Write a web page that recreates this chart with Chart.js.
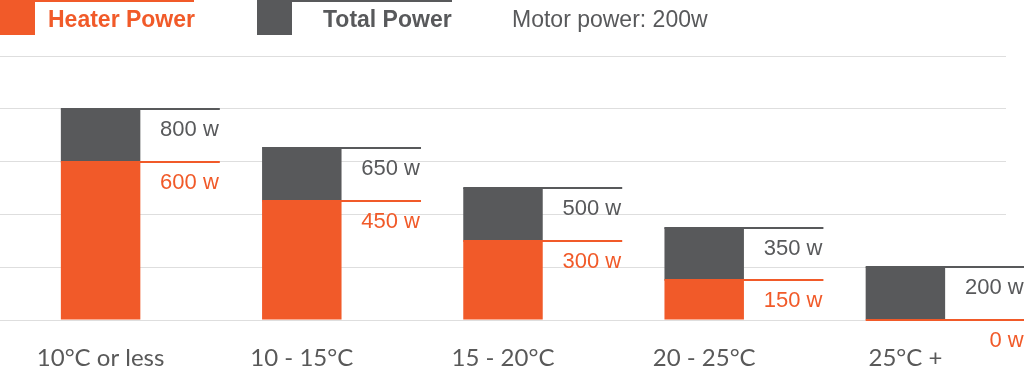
<!DOCTYPE html>
<html><head><meta charset="utf-8">
<script src="https://cdn.jsdelivr.net/npm/chart.js@4.4.0/dist/chart.umd.min.js"></script>
<style>html,body{margin:0;padding:0;background:#fff;overflow:hidden}#wrap{width:1024px;height:368px;position:relative}</style>
</head><body><div id="wrap"><canvas id="c"></canvas></div>
<script>
const categories = ['10°C or less', '10 - 15°C', '15 - 20°C', '20 - 25°C', '25°C +'];
const heaterPower = [600, 450, 300, 150, 0];
const motorPower = [200, 200, 200, 200, 200];
const yTicks = [0, 200, 400, 600, 800, 1000];
const legendLabels = ['Heater Power', 'Total Power', 'Motor power: 200w'];
const unit = ' w';

const ORANGE = '#F15A29';
const GRAY = '#58595B';

const annotations = {
  id: 'annotations',
  afterDatasetsDraw(chart) {
    const ctx = chart.ctx;
    const m0 = chart.getDatasetMeta(0), m1 = chart.getDatasetMeta(1);
    ctx.save();
    for (let i = 0; i < categories.length; i++) {
      const b0 = m0.data[i], b1 = m1.data[i];
      const w = b0.width;
      const left = b0.x - w / 2;
      const end = b0.x + 1.5 * w;
      const total = heaterPower[i] + motorPower[i];
      ctx.fillStyle = GRAY;
      ctx.fillRect(left, Math.round(b1.y) - 1, end - left, 2);
      ctx.fillStyle = ORANGE;
      ctx.fillRect(left, Math.round(b0.y) - 1, end - left, 2);
      ctx.font = '22px "Liberation Sans", Arial, sans-serif';
      ctx.textAlign = 'right';
      ctx.textBaseline = 'alphabetic';
      ctx.fillStyle = GRAY;
      ctx.fillText(total + unit, end - 1, b1.y + 27);
      ctx.fillStyle = ORANGE;
      ctx.fillText(heaterPower[i] + unit, end - 1, b0.y + 27);
    }
    ctx.restore();
  },
  afterDraw(chart) {
    const ctx = chart.ctx;
    ctx.save();
    ctx.fillStyle = ORANGE;
    ctx.fillRect(0, 0, 35, 35);
    ctx.fillRect(35, 0, 159, 2);
    ctx.fillStyle = GRAY;
    ctx.fillRect(257, 0, 35, 35);
    ctx.fillRect(292, 0, 160, 2);
    ctx.textAlign = 'left';
    ctx.textBaseline = 'alphabetic';
    ctx.font = 'bold 23px "Liberation Sans", Arial, sans-serif';
    ctx.fillStyle = ORANGE;
    ctx.fillText(legendLabels[0], 48, 27);
    ctx.fillStyle = GRAY;
    ctx.fillText(legendLabels[1], 323, 27);
    ctx.font = '23px "Liberation Sans", Arial, sans-serif';
    ctx.fillText(legendLabels[2], 512, 27);
    ctx.restore();
  }
};

new Chart(document.getElementById('c'), {
  type: 'bar',
  data: {
    labels: categories,
    datasets: [
      { label: legendLabels[0], data: heaterPower, backgroundColor: ORANGE, borderWidth: 0,
        barPercentage: 0.395, categoryPercentage: 1 },
      { label: legendLabels[1], data: motorPower, backgroundColor: GRAY, borderWidth: 0,
        barPercentage: 0.395, categoryPercentage: 1 }
    ]
  },
  options: {
    responsive: true,
    maintainAspectRatio: false,
    animation: false,
    layout: { padding: { top: 56, left: 0, right: 18, bottom: 0 } },
    plugins: { legend: { display: false }, tooltip: { enabled: false } },
    scales: {
      x: {
        stacked: true,
        grid: { display: false },
        border: { display: false },
        ticks: { color: '#595959', font: { family: 'Lato, "Liberation Sans", sans-serif', size: 24 }, padding: 16, maxRotation: 0 },
        afterFit(scale) { scale.height = 48; }
      },
      y: {
        stacked: true,
        min: 0, max: 1000,
        afterBuildTicks(scale) { scale.ticks = yTicks.map(v => ({ value: v })); },
        ticks: { display: false },
        grid: { color: '#DEDEDE', lineWidth: 1, drawTicks: false },
        border: { display: false }
      }
    }
  },
  plugins: [annotations]
});
</script>
</body></html>
